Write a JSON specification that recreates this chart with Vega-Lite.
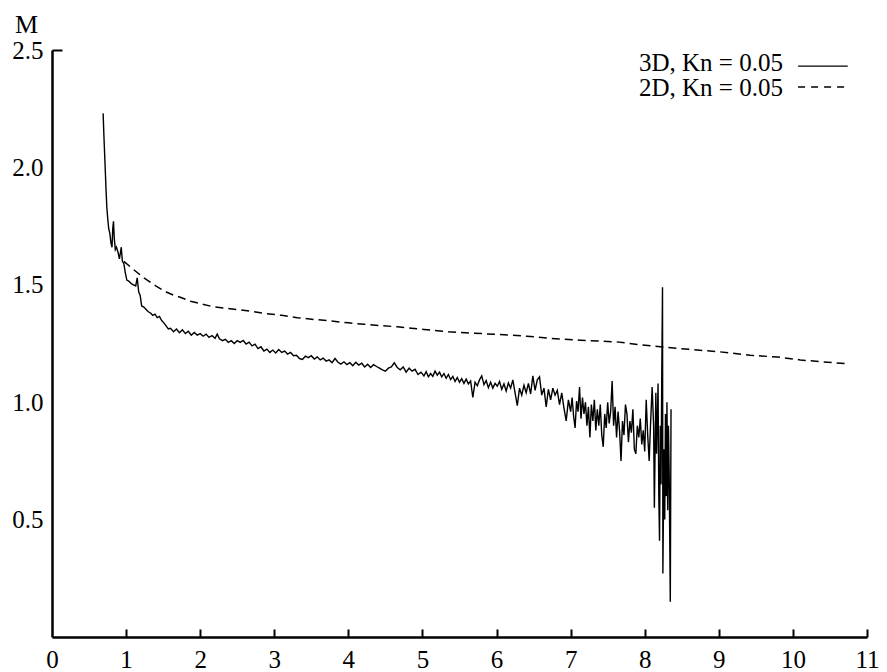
{
  "$schema": "https://vega.github.io/schema/vega-lite/v6.json",
  "width": 815,
  "height": 587,
  "autosize": "none",
  "padding": {"left": 52, "top": 50, "right": 20, "bottom": 35},
  "background": "white",
  "config": {
    "view": {"stroke": null},
    "font": "Liberation Serif",
    "axis": {
      "grid": false,
      "domainColor": "black",
      "domainWidth": 2.5,
      "tickColor": "black",
      "tickWidth": 2,
      "labelColor": "black",
      "labelFont": "Liberation Serif",
      "labelFontSize": 25,
      "labelFontWeight": "normal"
    }
  },
  "datasets": {
    "m3d": [
      {"x":0.690,"m":2.230},{"x":0.700,"m":2.140},{"x":0.710,"m":2.060},{"x":0.720,"m":1.980},{"x":0.730,"m":1.900},{"x":0.740,"m":1.830},{"x":0.750,"m":1.790},{"x":0.765,"m":1.740},{"x":0.780,"m":1.720},{"x":0.795,"m":1.680},{"x":0.810,"m":1.660},{"x":0.820,"m":1.740},{"x":0.830,"m":1.770},{"x":0.840,"m":1.700},{"x":0.855,"m":1.650},{"x":0.870,"m":1.660},{"x":0.890,"m":1.640},{"x":0.910,"m":1.610},{"x":0.935,"m":1.660},{"x":0.950,"m":1.600},{"x":0.970,"m":1.590},{"x":0.990,"m":1.550},{"x":1.010,"m":1.520},{"x":1.040,"m":1.515},{"x":1.070,"m":1.505},{"x":1.100,"m":1.500},{"x":1.130,"m":1.495},{"x":1.150,"m":1.530},{"x":1.170,"m":1.470},{"x":1.190,"m":1.455},{"x":1.210,"m":1.410},{"x":1.240,"m":1.405},{"x":1.270,"m":1.395},{"x":1.300,"m":1.385},{"x":1.330,"m":1.380},{"x":1.360,"m":1.370},{"x":1.390,"m":1.375},{"x":1.420,"m":1.360},{"x":1.450,"m":1.365},{"x":1.480,"m":1.348},{"x":1.510,"m":1.338},{"x":1.540,"m":1.325},{"x":1.570,"m":1.312},
      {"x":1.60,"m":1.315},{"x":1.64,"m":1.300},{"x":1.68,"m":1.312},{"x":1.72,"m":1.296},{"x":1.76,"m":1.308},{"x":1.80,"m":1.292},{"x":1.84,"m":1.302},{"x":1.88,"m":1.285},{"x":1.92,"m":1.297},{"x":1.96,"m":1.286},{"x":2.00,"m":1.292},{"x":2.04,"m":1.281},{"x":2.08,"m":1.290},{"x":2.12,"m":1.276},{"x":2.16,"m":1.284},{"x":2.20,"m":1.272},{"x":2.23,"m":1.290},{"x":2.26,"m":1.270},{"x":2.30,"m":1.262},{"x":2.34,"m":1.268},{"x":2.38,"m":1.255},{"x":2.42,"m":1.262},{"x":2.46,"m":1.250},{"x":2.50,"m":1.262},{"x":2.54,"m":1.255},{"x":2.58,"m":1.263},{"x":2.62,"m":1.248},{"x":2.66,"m":1.256},{"x":2.70,"m":1.240},{"x":2.74,"m":1.247},{"x":2.78,"m":1.228},{"x":2.82,"m":1.236},{"x":2.86,"m":1.218},{"x":2.90,"m":1.226},{"x":2.94,"m":1.212},{"x":2.98,"m":1.222},{"x":3.02,"m":1.210},{"x":3.06,"m":1.224},{"x":3.10,"m":1.212},{"x":3.14,"m":1.218},{"x":3.18,"m":1.205},{"x":3.22,"m":1.212},{"x":3.26,"m":1.198},{"x":3.30,"m":1.200},{"x":3.34,"m":1.186},{"x":3.38,"m":1.182},{"x":3.42,"m":1.196},{"x":3.46,"m":1.190},{"x":3.50,"m":1.198},{"x":3.54,"m":1.184},{"x":3.58,"m":1.193},{"x":3.62,"m":1.180},{"x":3.66,"m":1.188},{"x":3.70,"m":1.175},{"x":3.74,"m":1.180},{"x":3.78,"m":1.168},{"x":3.82,"m":1.186},{"x":3.86,"m":1.170},{"x":3.90,"m":1.162},{"x":3.94,"m":1.172},{"x":3.98,"m":1.160},{"x":4.02,"m":1.168},{"x":4.06,"m":1.155},{"x":4.10,"m":1.170},{"x":4.14,"m":1.158},{"x":4.18,"m":1.166},{"x":4.22,"m":1.150},{"x":4.26,"m":1.162},{"x":4.30,"m":1.148},{"x":4.34,"m":1.160},{"x":4.38,"m":1.152},{"x":4.42,"m":1.145},{"x":4.46,"m":1.138},{"x":4.50,"m":1.132},{"x":4.54,"m":1.145},{"x":4.58,"m":1.150},{"x":4.62,"m":1.168},{"x":4.66,"m":1.148},{"x":4.70,"m":1.138},{"x":4.74,"m":1.150},{"x":4.78,"m":1.128},{"x":4.82,"m":1.145},{"x":4.86,"m":1.132},{"x":4.90,"m":1.140},{"x":4.94,"m":1.118},{"x":4.98,"m":1.128},
      {"x":5.02,"m":1.112},{"x":5.05,"m":1.130},{"x":5.08,"m":1.108},{"x":5.11,"m":1.122},{"x":5.14,"m":1.110},{"x":5.17,"m":1.132},{"x":5.20,"m":1.115},{"x":5.23,"m":1.128},{"x":5.26,"m":1.108},{"x":5.29,"m":1.122},{"x":5.32,"m":1.102},{"x":5.35,"m":1.118},{"x":5.38,"m":1.096},{"x":5.41,"m":1.110},{"x":5.44,"m":1.088},{"x":5.47,"m":1.105},{"x":5.50,"m":1.085},{"x":5.53,"m":1.100},{"x":5.56,"m":1.080},{"x":5.59,"m":1.098},{"x":5.62,"m":1.078},{"x":5.65,"m":1.090},{"x":5.68,"m":1.020},{"x":5.71,"m":1.085},{"x":5.74,"m":1.070},{"x":5.77,"m":1.095},{"x":5.80,"m":1.112},{"x":5.83,"m":1.075},{"x":5.86,"m":1.092},{"x":5.89,"m":1.062},{"x":5.92,"m":1.085},{"x":5.95,"m":1.060},{"x":5.98,"m":1.080},{"x":6.01,"m":1.068},{"x":6.04,"m":1.088},{"x":6.07,"m":1.055},{"x":6.10,"m":1.078},{"x":6.13,"m":1.048},{"x":6.16,"m":1.082},{"x":6.19,"m":1.060},{"x":6.22,"m":1.095},{"x":6.25,"m":1.040},{"x":6.28,"m":0.985},{"x":6.31,"m":1.060},{"x":6.34,"m":1.030},{"x":6.37,"m":1.072},{"x":6.40,"m":1.040},{"x":6.43,"m":1.080},{"x":6.46,"m":1.035},{"x":6.49,"m":1.112},{"x":6.52,"m":1.050},{"x":6.55,"m":1.095},{"x":6.58,"m":1.108},{"x":6.61,"m":1.030},{"x":6.64,"m":1.060},{"x":6.67,"m":0.980},{"x":6.70,"m":1.055},{"x":6.73,"m":1.010},{"x":6.76,"m":1.060},{"x":6.79,"m":1.030},{"x":6.82,"m":1.050},{"x":6.85,"m":0.990},{"x":6.88,"m":1.040},{"x":6.91,"m":0.975},{"x":6.94,"m":0.920},{"x":6.97,"m":1.010},
      {"x":7.00,"m":0.960},{"x":7.02,"m":1.020},{"x":7.04,"m":0.940},{"x":7.06,"m":0.890},{"x":7.08,"m":1.005},{"x":7.10,"m":0.960},{"x":7.12,"m":1.065},{"x":7.14,"m":0.930},{"x":7.16,"m":1.020},{"x":7.18,"m":0.950},{"x":7.20,"m":1.000},{"x":7.22,"m":0.900},{"x":7.24,"m":0.980},{"x":7.26,"m":0.850},{"x":7.28,"m":0.990},{"x":7.30,"m":0.920},{"x":7.32,"m":1.010},{"x":7.34,"m":0.880},{"x":7.36,"m":0.970},{"x":7.38,"m":0.900},{"x":7.40,"m":0.990},{"x":7.42,"m":0.860},{"x":7.44,"m":0.810},{"x":7.46,"m":0.950},{"x":7.48,"m":0.890},{"x":7.50,"m":1.000},{"x":7.52,"m":0.910},{"x":7.54,"m":0.960},{"x":7.56,"m":1.090},{"x":7.58,"m":0.900},{"x":7.60,"m":0.980},{"x":7.62,"m":0.850},{"x":7.64,"m":0.960},{"x":7.66,"m":0.880},{"x":7.68,"m":0.750},{"x":7.70,"m":0.920},{"x":7.72,"m":0.860},{"x":7.74,"m":0.990},{"x":7.76,"m":0.950},{"x":7.78,"m":0.830},{"x":7.80,"m":0.920},{"x":7.82,"m":0.870},{"x":7.84,"m":0.970},{"x":7.86,"m":0.800},{"x":7.88,"m":0.780},{"x":7.90,"m":0.900},{"x":7.92,"m":0.850},{"x":7.94,"m":0.930},{"x":7.96,"m":0.820},{"x":7.98,"m":0.880},{"x":8.00,"m":0.790},{"x":8.02,"m":1.010},{"x":8.04,"m":0.860},{"x":8.06,"m":0.750},{"x":8.08,"m":0.920},{"x":8.10,"m":1.065},{"x":8.12,"m":0.900},{"x":8.13,"m":0.550},{"x":8.15,"m":1.040},{"x":8.16,"m":0.780},{"x":8.18,"m":1.080},{"x":8.19,"m":0.600},{"x":8.20,"m":0.410},{"x":8.21,"m":0.900},{"x":8.22,"m":0.650},{"x":8.23,"m":1.120},{"x":8.24,"m":1.490},{"x":8.245,"m":0.270},{"x":8.26,"m":0.800},{"x":8.27,"m":0.500},{"x":8.28,"m":0.950},{"x":8.29,"m":0.600},{"x":8.30,"m":1.000},{"x":8.31,"m":0.540},{"x":8.32,"m":0.900},{"x":8.33,"m":0.700},{"x":8.345,"m":0.150},{"x":8.355,"m":0.970}
    ],
    "m2d": [
      {"x":0.97,"m":1.600},{"x":1.10,"m":1.565},{"x":1.24,"m":1.530},{"x":1.40,"m":1.495},{"x":1.55,"m":1.468},{"x":1.64,"m":1.456},{"x":1.75,"m":1.445},{"x":1.87,"m":1.430},{"x":2.00,"m":1.420},{"x":2.18,"m":1.406},{"x":2.40,"m":1.398},{"x":2.68,"m":1.388},{"x":2.86,"m":1.378},{"x":3.10,"m":1.370},{"x":3.31,"m":1.360},{"x":3.55,"m":1.352},{"x":3.76,"m":1.346},{"x":4.00,"m":1.338},{"x":4.21,"m":1.332},{"x":4.45,"m":1.326},{"x":4.66,"m":1.321},{"x":4.85,"m":1.315},{"x":5.02,"m":1.310},{"x":5.35,"m":1.300},{"x":5.69,"m":1.294},{"x":6.05,"m":1.288},{"x":6.41,"m":1.281},{"x":6.72,"m":1.272},{"x":7.13,"m":1.264},{"x":7.62,"m":1.257},{"x":7.90,"m":1.246},{"x":8.21,"m":1.236},{"x":8.60,"m":1.225},{"x":9.00,"m":1.215},{"x":9.42,"m":1.200},{"x":9.80,"m":1.192},{"x":10.10,"m":1.180},{"x":10.40,"m":1.172},{"x":10.71,"m":1.164}
    ],
    "legend": [
      {"label": "3D, Kn = 0.05", "series": "3D"},
      {"label": "2D, Kn = 0.05", "series": "2D"}
    ]
  },
  "layer": [
    {
      "data": {"name": "m3d"},
      "mark": {"type": "line", "color": "black", "strokeWidth": 1.4},
      "encoding": {
        "x": {
          "field": "x", "type": "quantitative",
          "scale": {"domain": [0, 11], "nice": false, "zero": false},
          "axis": {
            "values": [0,1,2,3,4,5,6,7,8,9,10,11],
            "format": "d",
            "tickSize": -8,
            "tickOpacity": {"condition": {"test": "datum.value == 0", "value": 0}, "value": 1},
            "labelPadding": 18,
            "labelFlush": false,
            "title": null
          }
        },
        "y": {
          "field": "m", "type": "quantitative",
          "scale": {"domain": [0, 2.5], "nice": false},
          "axis": {
            "values": [0.5, 1, 1.5, 2, 2.5],
            "format": ".1f",
            "tickSize": -10,
            "tickOpacity": {"condition": {"test": "datum.value == 2.5", "value": 1}, "value": 0},
            "labelPadding": 19,
            "labelFlush": false,
            "title": "M",
            "titleAngle": 0,
            "titleFont": "Liberation Serif",
            "titleFontSize": 26,
            "titleFontWeight": "normal",
            "titleColor": "black",
            "titleAlign": "center",
            "titleBaseline": "alphabetic",
            "titleX": -26,
            "titleY": -18
          }
        }
      }
    },
    {
      "data": {"name": "m2d"},
      "mark": {"type": "line", "color": "black", "strokeWidth": 1.5, "strokeDash": [8, 5]},
      "encoding": {
        "x": {"field": "x", "type": "quantitative"},
        "y": {"field": "m", "type": "quantitative"}
      }
    },
    {
      "data": {"name": "legend"},
      "transform": [{"filter": "datum.series == '3D'"}],
      "mark": {"type": "text", "align": "right", "baseline": "alphabetic", "font": "Liberation Serif", "fontSize": 25, "color": "black"},
      "encoding": {"x": {"datum": 9.865, "type": "quantitative"}, "y": {"datum": 2.4124, "type": "quantitative"}, "text": {"field": "label"}}
    },
    {
      "data": {"name": "legend"},
      "transform": [{"filter": "datum.series == '2D'"}],
      "mark": {"type": "text", "align": "right", "baseline": "alphabetic", "font": "Liberation Serif", "fontSize": 25, "color": "black"},
      "encoding": {"x": {"datum": 9.865, "type": "quantitative"}, "y": {"datum": 2.3059, "type": "quantitative"}, "text": {"field": "label"}}
    },
    {
      "data": {"name": "legend"},
      "transform": [{"filter": "datum.series == '3D'"}],
      "mark": {"type": "rule", "color": "black", "strokeWidth": 1.4},
      "encoding": {"x": {"datum": 10.07, "type": "quantitative"}, "x2": {"datum": 10.74}, "y": {"datum": 2.4312, "type": "quantitative"}}
    },
    {
      "data": {"name": "legend"},
      "transform": [{"filter": "datum.series == '2D'"}],
      "mark": {"type": "rule", "color": "black", "strokeWidth": 1.4, "strokeDash": [7, 6]},
      "encoding": {"x": {"datum": 10.07, "type": "quantitative"}, "x2": {"datum": 10.74}, "y": {"datum": 2.3422, "type": "quantitative"}}
    }
  ]
}
